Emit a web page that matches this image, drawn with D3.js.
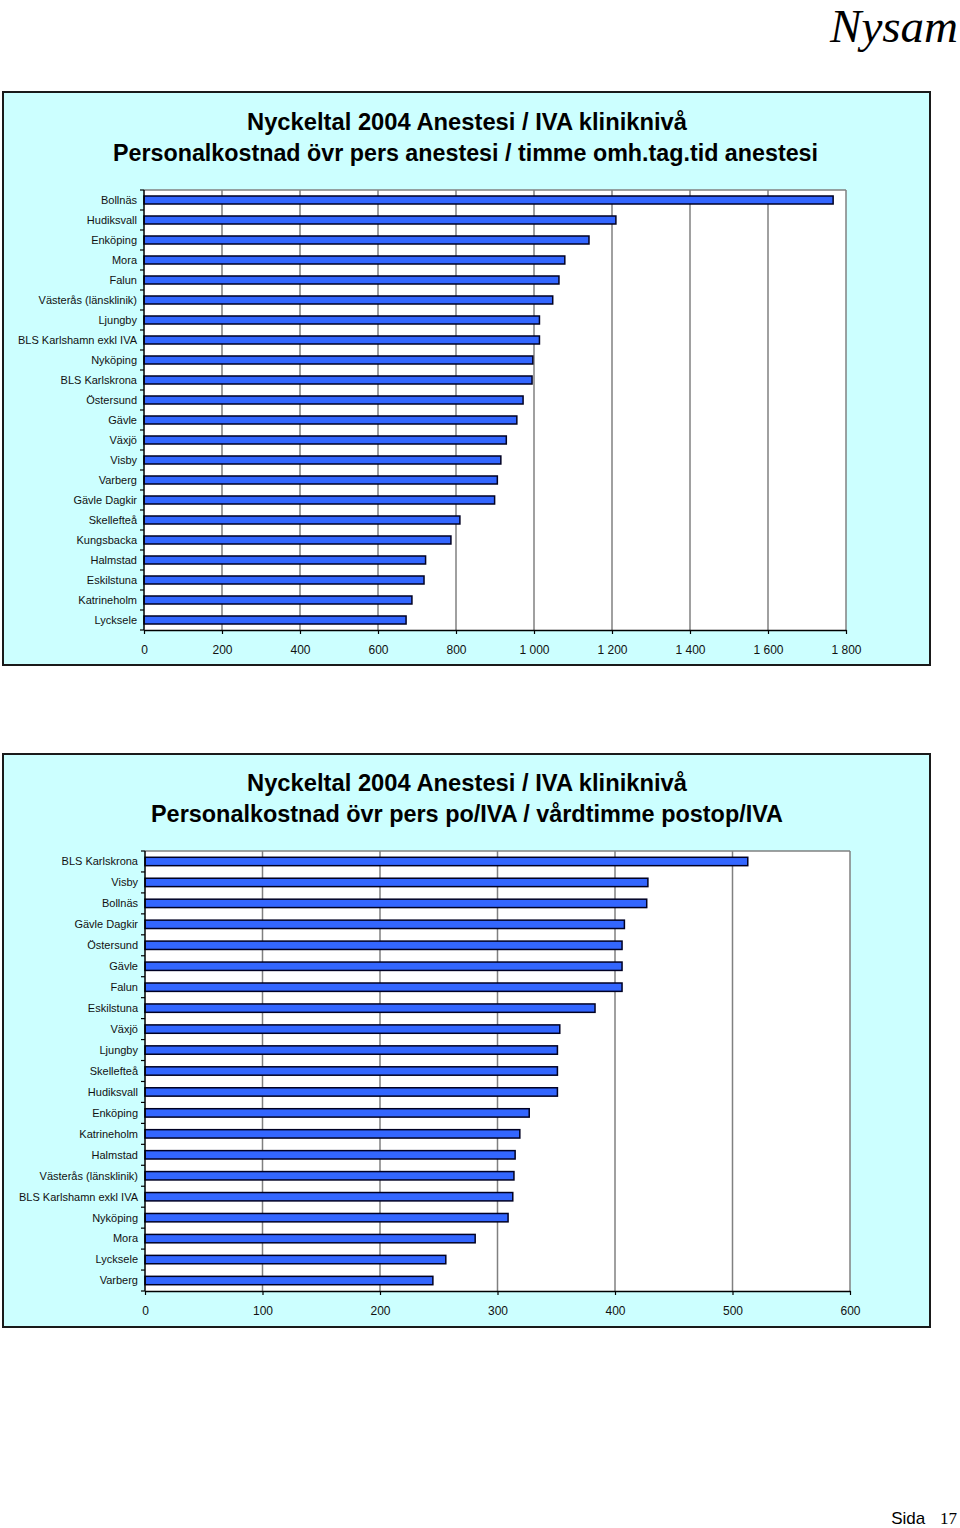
<!DOCTYPE html>
<html>
<head>
<meta charset="utf-8">
<script src="https://cdn.jsdelivr.net/npm/d3@7"></script>
<style>
  html, body { margin: 0; padding: 0; background: #ffffff; }
  svg { display: block; }
</style>
</head>
<body>
<svg id="chart" width="960" height="1528"></svg>
<script>
// ---------- DATA ----------
const titleTop = ["Nyckeltal 2004  Anestesi / IVA kliniknivå",
                  "Personalkostnad övr pers anestesi / timme omh.tag.tid anestesi"];
const categoriesTop = ["Bollnäs", "Hudiksvall", "Enköping", "Mora", "Falun",
  "Västerås (länsklinik)", "Ljungby", "BLS Karlshamn exkl IVA", "Nyköping",
  "BLS Karlskrona", "Östersund", "Gävle", "Växjö", "Visby", "Varberg",
  "Gävle Dagkir", "Skellefteå", "Kungsbacka", "Halmstad", "Eskilstuna",
  "Katrineholm", "Lycksele"];
const valuesTop = [1767, 1210, 1141, 1079, 1064, 1048, 1014, 1014, 997, 995,
  972, 956, 929, 915, 906, 899, 810, 787, 722, 718, 687, 672];
const ticksTop = [0, 200, 400, 600, 800, 1000, 1200, 1400, 1600, 1800];

const titleBottom = ["Nyckeltal 2004  Anestesi / IVA kliniknivå",
                     "Personalkostnad övr pers po/IVA / vårdtimme postop/IVA"];
const categoriesBottom = ["BLS Karlskrona", "Visby", "Bollnäs", "Gävle Dagkir",
  "Östersund", "Gävle", "Falun", "Eskilstuna", "Växjö", "Ljungby", "Skellefteå",
  "Hudiksvall", "Enköping", "Katrineholm", "Halmstad", "Västerås (länsklinik)",
  "BLS Karlshamn exkl IVA", "Nyköping", "Mora", "Lycksele", "Varberg"];
const valuesBottom = [513, 428, 427, 408, 406, 406, 406, 383, 353, 351, 351,
  351, 327, 319, 315, 314, 313, 309, 281, 256, 245];
const ticksBottom = [0, 100, 200, 300, 400, 500, 600];

// ---------- DRAW ----------
const svg = d3.select("#chart");
const fmt = v => d3.format(",")(v).replace(/,/g, " ");

svg.append("text")
  .attr("x", 958).attr("y", 42)
  .attr("text-anchor", "end")
  .style("font-family", "'Liberation Serif', 'DejaVu Serif', serif")
  .style("font-style", "italic")
  .style("font-size", "47px")
  .attr("fill", "#000")
  .text("Nysam");

const footer = svg.append("text")
  .attr("x", 957).attr("y", 1524)
  .attr("text-anchor", "end")
  .attr("fill", "#000");
footer.append("tspan")
  .style("font-family", "'Liberation Sans', Arial, sans-serif")
  .style("font-size", "17px")
  .text("Sida ");
footer.append("tspan")
  .attr("dx", 10)
  .style("font-family", "'Liberation Serif', serif")
  .style("font-size", "17px")
  .text("17");

function drawChart(cfg) {
  const g = svg.append("g");
  // panel
  g.append("rect")
    .attr("x", cfg.panel[0]).attr("y", cfg.panel[1])
    .attr("width", cfg.panel[2] - cfg.panel[0])
    .attr("height", cfg.panel[3] - cfg.panel[1])
    .attr("fill", "#CCFFFF")
    .attr("stroke", "#1a1a1a").attr("stroke-width", 2);

  // titles
  cfg.title.forEach((t, i) => {
    g.append("text")
      .attr("x", cfg.titleX[i]).attr("y", cfg.titleY[i])
      .attr("textLength", cfg.titleW[i])
      .attr("lengthAdjust", "spacingAndGlyphs")
      .style("font-family", "'Liberation Sans', Arial, sans-serif")
      .style("font-weight", "bold")
      .style("font-size", "23px")
      .attr("fill", "#000")
      .text(t);
  });

  const x = d3.scaleLinear().domain(cfg.domain).range([cfg.x0, cfg.x1]);
  const y = d3.scaleBand().domain(cfg.categories)
    .range([cfg.y0, cfg.y1]).paddingInner(0.6).paddingOuter(0.3);

  // plot area
  g.append("rect")
    .attr("x", cfg.x0).attr("y", cfg.y0)
    .attr("width", cfg.x1 - cfg.x0).attr("height", cfg.y1 - cfg.y0)
    .attr("fill", "#fff");
  // gridlines
  g.selectAll(".grid").data(cfg.ticks.filter(d => d > 0)).enter()
    .append("line")
    .attr("x1", d => x(d)).attr("x2", d => x(d))
    .attr("y1", cfg.y0).attr("y2", cfg.y1)
    .attr("stroke", "#808080").attr("stroke-width", 1.5);
  g.append("line")
    .attr("x1", cfg.x0).attr("x2", cfg.x1)
    .attr("y1", cfg.y0).attr("y2", cfg.y0)
    .attr("stroke", "#808080").attr("stroke-width", 1.5);

  // bars
  g.selectAll(".bar").data(cfg.values).enter()
    .append("rect")
    .attr("x", x(0))
    .attr("y", (d, i) => y(cfg.categories[i]))
    .attr("width", d => x(d) - x(0))
    .attr("height", y.bandwidth())
    .attr("fill", "#3366FF")
    .attr("stroke", "#000022").attr("stroke-width", 1.5);

  // x axis
  const xAxis = d3.axisBottom(x).tickValues(cfg.ticks).tickSize(4)
    .tickSizeOuter(0).tickFormat(fmt).tickPadding(11);
  const ax = g.append("g").attr("transform", `translate(0,${cfg.y1})`).call(xAxis);
  ax.select(".domain").attr("stroke", "#000").attr("stroke-width", 1.5);
  ax.selectAll(".tick line").attr("stroke", "#000").attr("stroke-width", 1.2);
  ax.selectAll("text")
    .style("font-family", "'Liberation Sans', Arial, sans-serif")
    .style("font-size", "12px").attr("fill", "#111");

  // y axis
  const step = y.step();
  const bounds = d3.range(cfg.categories.length + 1).map(i => cfg.y0 + i * step);
  g.append("line")
    .attr("x1", cfg.x0).attr("x2", cfg.x0)
    .attr("y1", cfg.y0).attr("y2", cfg.y1)
    .attr("stroke", "#000").attr("stroke-width", 1.5);
  g.selectAll(".ytick").data(bounds).enter()
    .append("line")
    .attr("x1", cfg.x0 - 4).attr("x2", cfg.x0)
    .attr("y1", d => d).attr("y2", d => d)
    .attr("stroke", "#000").attr("stroke-width", 1.2);
  g.selectAll(".ylab").data(cfg.categories).enter()
    .append("text")
    .attr("x", cfg.x0 - 7)
    .attr("y", d => y(d) + y.bandwidth() / 2)
    .attr("dy", "0.35em")
    .attr("text-anchor", "end")
    .style("font-family", "'Liberation Sans', Arial, sans-serif")
    .style("font-size", "11px")
    .attr("fill", "#111")
    .text(d => d);
}

drawChart({
  panel: [3, 92, 930, 665],
  title: titleTop,
  titleX: [247, 113], titleY: [130, 161], titleW: [440, 705],
  domain: [0, 1800], ticks: ticksTop,
  categories: categoriesTop, values: valuesTop,
  x0: 144, x1: 846, y0: 190, y1: 630
});

drawChart({
  panel: [3, 754, 930, 1327],
  title: titleBottom,
  titleX: [247, 151], titleY: [791, 822], titleW: [440, 632],
  domain: [0, 600], ticks: ticksBottom,
  categories: categoriesBottom, values: valuesBottom,
  x0: 145, x1: 850, y0: 851, y1: 1291
});
</script>
</body>
</html>
